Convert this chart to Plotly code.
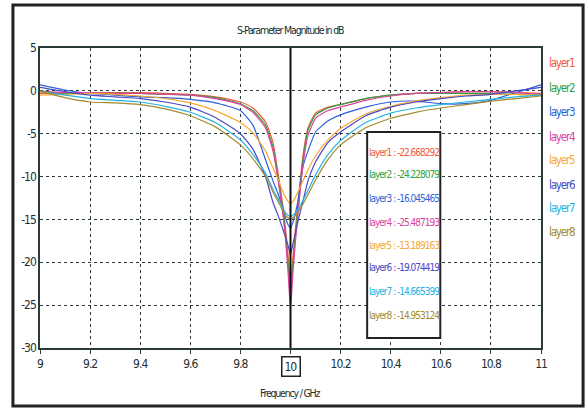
import plotly.graph_objects as go

# ---------------- data ----------------
freq = [9.0, 9.1, 9.2, 9.3, 9.4, 9.5, 9.6, 9.7, 9.8, 9.85, 9.9, 9.93, 9.95, 9.97, 9.98, 9.99,
        10.0, 10.01, 10.02, 10.03, 10.05, 10.07, 10.1, 10.15, 10.2, 10.3, 10.4, 10.5, 10.6,
        10.7, 10.8, 10.9, 11.0]

layer1 = [-0.3, -0.3, -0.2, -0.2, -0.2, -0.3, -0.4, -0.7, -1.3, -2.0, -3.6, -6.0, -9.5, -13.5, -16.0, -19.0,
          -22.668292, -19.3, -16.0, -13.0, -7.5, -4.3, -2.6, -1.9, -1.6, -0.9, -0.5, -0.3, -0.2,
          -0.1, -0.1, -0.2, -0.3]
layer2 = [0.0, -0.3, -0.3, -0.3, -0.3, -0.4, -0.5, -0.8, -1.5, -2.3, -4.0, -6.6, -10.0, -14.0, -16.8, -20.0,
          -24.228079, -20.3, -16.8, -13.6, -8.0, -4.6, -2.8, -2.0, -1.6, -0.9, -0.5, -0.3, -0.3,
          -0.3, -0.3, -0.4, -0.5]
layer3 = [0.7, 0.1, -0.3, -0.5, -0.7, -0.8, -1.0, -1.4, -2.3, -4.0, -8.0, -10.5, -12.0, -13.8, -14.8, -15.6,
          -16.045465, -15.3, -14.2, -12.8, -8.8, -7.0, -4.8, -3.5, -2.8, -1.9, -1.3, -1.2, -1.5,
          -1.5, -1.1, -0.2, 0.7]
layer4 = [-0.1, -0.2, -0.2, -0.3, -0.3, -0.4, -0.5, -0.9, -1.6, -2.5, -4.3, -7.0, -10.3, -14.5, -17.3, -21.0,
          -25.487193, -21.0, -17.5, -14.3, -8.6, -5.2, -3.2, -2.3, -1.9, -1.1, -0.6, -0.3, -0.2,
          -0.1, -0.1, -0.2, -0.4]
layer5 = [-0.5, -0.4, -0.3, -0.4, -0.6, -0.9, -1.4, -2.3, -3.7, -4.9, -7.0, -9.0, -10.3, -11.8, -12.4, -12.9,
          -13.189163, -12.9, -12.4, -11.8, -10.5, -9.2, -7.6, -5.7, -4.4, -2.7, -1.8, -1.2, -0.8,
          -0.5, -0.4, -0.4, -0.5]
layer6 = [0.4, -0.1, -0.5, -0.7, -0.9, -1.3, -1.9, -3.1, -5.0, -6.8, -10.0, -13.0, -14.5, -16.2, -17.0, -18.0,
          -19.074419, -17.8, -16.5, -15.2, -12.8, -10.5, -8.3, -6.0, -4.8, -2.9, -1.9, -1.3, -0.9,
          -0.6, -0.4, 0.0, 0.4]
layer7 = [-0.1, -0.5, -0.9, -1.1, -1.3, -1.8, -2.5, -3.7, -5.7, -7.4, -9.6, -11.5, -12.6, -13.7, -14.2, -14.5,
          -14.665399, -14.5, -14.2, -13.8, -12.8, -11.6, -9.8, -7.4, -5.8, -3.7, -2.6, -2.0, -1.6,
          -1.3, -1.0, -0.7, -0.5]
layer8 = [0.0, -0.8, -1.3, -1.4, -1.6, -2.1, -2.9, -4.2, -6.3, -7.9, -10.0, -11.8, -12.9, -14.0, -14.5, -14.8,
          -14.953124, -14.8, -14.5, -14.1, -13.2, -12.1, -10.4, -8.0, -6.3, -4.3, -3.2, -2.5, -2.0,
          -1.6, -1.2, -0.9, -0.6]

names = ["layer1", "layer2", "layer3", "layer4", "layer5", "layer6", "layer7", "layer8"]
series = [layer1, layer2, layer3, layer4, layer5, layer6, layer7, layer8]
marker_values = ["-22.668292", "-24.228079", "-16.045465", "-25.487193",
                 "-13.189163", "-19.074419", "-14.665399", "-14.953124"]
colors = ["#f15a3a", "#2ea043", "#2f5fd8", "#d9439f", "#f7a933", "#4a48c2", "#27b2e2", "#a48a2e"]

x_tick_vals = [9, 9.2, 9.4, 9.6, 9.8, 10, 10.2, 10.4, 10.6, 10.8, 11]
x_tick_text = ["9", "9.2", "9.4", "9.6", "9.8", "", "10.2", "10.4", "10.6", "10.8", "11"]
y_tick_vals = [5, 0, -5, -10, -15, -20, -25, -30]
y_tick_text = ["5", "0", "-5", "-10", "-15", "-20", "-25", "-30"]
marker_freq = 10

FONT = "DejaVu Sans Condensed, Liberation Sans Narrow, Arial Narrow, Liberation Sans, sans-serif"
TXT = "#1a3030"


def squeeze(s, ls):
    return f'<span style="letter-spacing:{ls}px">{s}</span>'


fig = go.Figure()
for name, ys, col in zip(names, series, colors):
    fig.add_trace(go.Scatter(x=freq, y=ys, mode="lines", name=name,
                             line=dict(color=col, width=1.2, shape="spline", smoothing=0.5),
                             showlegend=False))

fig.update_layout(
    width=588, height=409,
    margin=dict(l=40, r=47, t=48, b=61),
    paper_bgcolor="white", plot_bgcolor="white",
    font=dict(family=FONT, color=TXT, size=11),
)
fig.update_xaxes(range=[9, 11], tickvals=x_tick_vals,
                 ticktext=[squeeze(t, -1.0) for t in x_tick_text],
                 showgrid=True, gridcolor="#2b3b3b", griddash="dot", gridwidth=1.3,
                 showline=True, linecolor="#2b3b3b", linewidth=1.6, mirror=True,
                 ticks="outside", ticklen=4, tickcolor="#2b3b3b",
                 zeroline=False, tickfont=dict(size=12, family=FONT, color=TXT))
fig.update_yaxes(range=[-30, 5], tickvals=y_tick_vals,
                 ticktext=[squeeze(t, -1.0) for t in y_tick_text],
                 showgrid=True, gridcolor="#2b3b3b", griddash="dot", gridwidth=1.3,
                 showline=True, linecolor="#2b3b3b", linewidth=1.6, mirror=True,
                 ticks="", zeroline=False, tickfont=dict(size=12, family=FONT, color=TXT))

shapes = []
shapes.append(dict(type="line", xref="x", yref="y", x0=marker_freq, x1=marker_freq, y0=-30, y1=5,
                   line=dict(color="#111", width=2), layer="above"))
shapes.append(dict(type="rect", xref="paper", yref="paper", x0=-0.054, x1=1.084, y0=-0.193, y1=1.143,
                   line=dict(color="#222", width=3), layer="above"))
shapes.append(dict(type="rect", xref="paper", yref="paper", x0=0.653, x1=0.799, y0=0.033, y1=0.72,
                   line=dict(color="#222", width=2), fillcolor="white", layer="above"))
fig.update_layout(shapes=shapes)

ann = []
ann.append(dict(text=squeeze("S-Parameter Magnitude in dB", -1.2), x=0.5, y=1.06, xref="paper", yref="paper",
                yanchor="middle", showarrow=False, font=dict(size=10.5, family=FONT, color=TXT)))
ann.append(dict(text=squeeze("Frequency / GHz", -1.2), x=0.5, y=-0.15, xref="paper", yref="paper",
                yanchor="middle", showarrow=False, font=dict(size=10.5, family=FONT, color=TXT)))
ann.append(dict(text=squeeze("10", -1.0), x=marker_freq, y=-0.027, xref="x", yref="paper", yanchor="top",
                showarrow=False, bordercolor="#222", borderwidth=1.5, borderpad=2,
                font=dict(size=12, family=FONT, color=TXT)))
legend_y = [0.95, 0.867, 0.787, 0.703, 0.627, 0.543, 0.467, 0.387]
box_y = [0.653, 0.577, 0.497, 0.42, 0.343, 0.267, 0.187, 0.107]
for i, (name, col, val) in enumerate(zip(names, colors, marker_values)):
    ann.append(dict(text=squeeze(name, -1.2), x=1.012, y=legend_y[i], xref="paper", yref="paper",
                    xanchor="left", yanchor="middle", showarrow=False,
                    font=dict(size=11.5, family=FONT, color=col)))
    ann.append(dict(text=squeeze(f"{name} : {val}", -1.0), x=0.727, y=box_y[i], xref="paper", yref="paper",
                    xanchor="center", yanchor="middle", showarrow=False,
                    font=dict(size=10, family=FONT, color=col)))
fig.update_layout(annotations=ann)

fig.write_html("out.html")
